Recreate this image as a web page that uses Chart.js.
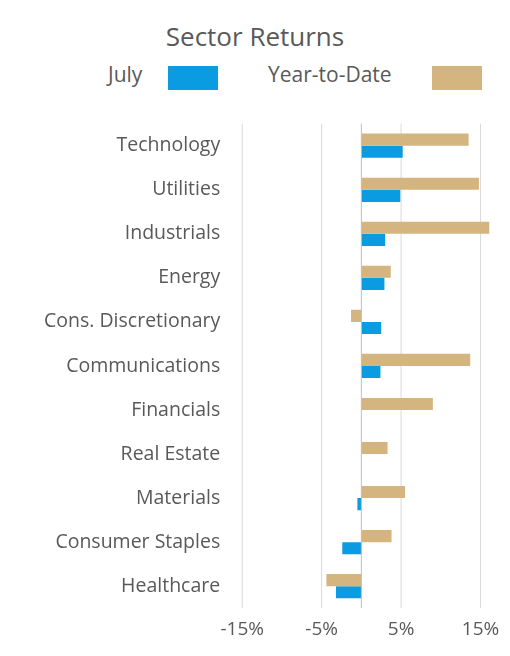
<!DOCTYPE html>
<html><head><meta charset="utf-8">
<script src="https://cdn.jsdelivr.net/npm/chart.js@4"></script>
<style>
body{margin:0;background:#fff;font-family:"Open Sans",sans-serif;}
#t{position:absolute;left:0;width:510px;top:18px;text-align:center;font:26px "Open Sans",sans-serif;color:#595959}
#lg{position:absolute;top:60px;left:0;width:510px;font:21px "Open Sans",sans-serif;color:#595959}
.sw{position:absolute;width:50px;height:24px;top:6px}
#w{position:absolute;left:0;top:98px;width:510px;height:553px}
</style></head><body>
<div id="t">Sector Returns</div>
<div id="lg"><span style="position:absolute;left:108px;top:0">July</span><span class="sw" style="left:168px;background:#0a9be0"></span>
<span style="position:absolute;left:268px;top:0">Year-to-Date</span><span class="sw" style="left:432px;background:#d5b57f"></span></div>
<div id="w"><canvas id="c"></canvas></div>
<script>
const categories=["Technology","Utilities","Industrials","Energy","Cons. Discretionary","Communications","Financials","Real Estate","Materials","Consumer Staples","Healthcare"];
const ytd=[13.5,14.8,16.1,3.7,-1.3,13.7,9.0,3.3,5.5,3.8,-4.4];
const july=[5.2,4.9,3.0,2.9,2.5,2.4,0,0,-0.5,-2.4,-3.2];
const tickVals=[-15,-5,5,15];
new Chart(document.getElementById('c'),{type:'bar',
data:{labels:categories,datasets:[
{label:'Year-to-Date',data:ytd,backgroundColor:'#d5b57f',barPercentage:1,categoryPercentage:0.55},
{label:'July',data:july,backgroundColor:'#0a9be0',barPercentage:1,categoryPercentage:0.55}]},
options:{indexAxis:'y',responsive:true,maintainAspectRatio:false,animation:false,
layout:{padding:{right:12,left:30,top:0,bottom:0}},
plugins:{legend:{display:false},tooltip:{enabled:false}},
scales:{
x:{min:-15,max:17,afterBuildTicks:a=>{a.ticks=tickVals.map(v=>({value:v}));},
ticks:{callback:v=>v+'%',color:'#595959',font:{size:19,family:'"Open Sans"'},padding:10},
grid:{display:false,drawTicks:false},border:{display:false}},
y:{ticks:{color:'#595959',font:{size:19.5,family:'"Open Sans"'},padding:14},grid:{display:false},border:{display:false}}
}},
plugins:[{id:'zero',afterDatasetsDraw(ch){const x=ch.scales.x.getPixelForValue(0),a=ch.chartArea,g=ch.ctx;g.save();g.strokeStyle='#bfbfbf';g.lineWidth=1;g.beginPath();g.moveTo(x,a.top);g.lineTo(x,a.bottom);g.stroke();g.restore();},
beforeDatasetsDraw(ch){const a=ch.chartArea,g=ch.ctx,s=ch.scales.x;g.save();g.strokeStyle='#d9d9d9';tickVals.forEach(v=>{const x=s.getPixelForValue(v);g.beginPath();g.moveTo(x,a.top);g.lineTo(x,a.bottom);g.stroke();});g.restore();}}]
});
</script></body></html>
